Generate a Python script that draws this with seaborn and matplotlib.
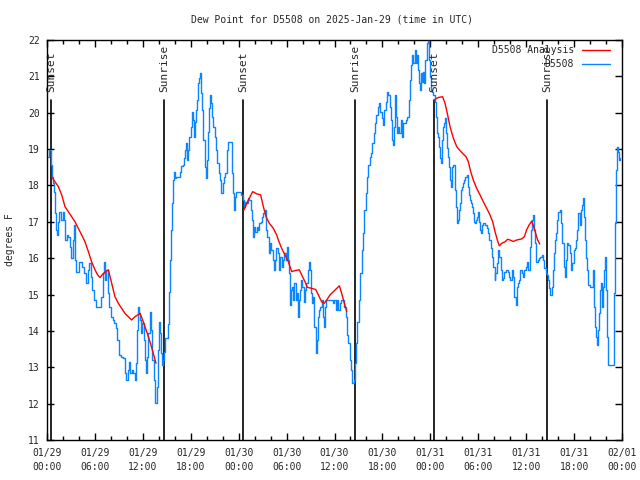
import pandas as pd
import matplotlib.pyplot as plt
from matplotlib.lines import Line2D
import seaborn as sns

# time axis: hours after 2025-01-29 00:00 UTC
obs_hours = [
    0.17, 0.38, 0.58, 0.70, 0.79, 1.00, 1.09, 1.20, 1.34, 1.50, 1.63, 1.84, 2.05, 2.17, 2.34,
    2.59, 2.75, 3.01, 3.09, 3.30, 3.42, 3.59, 3.72, 3.92, 4.13, 4.34, 4.55, 4.76, 4.97, 5.18,
    5.38, 5.59, 5.80, 6.01, 6.34, 6.64, 6.85, 7.05, 7.18, 7.35, 7.51, 7.68, 7.89, 8.10, 8.31,
    8.51, 8.72, 8.93, 9.14, 9.35, 9.68, 9.85, 9.98, 10.18, 10.39, 10.52, 10.69, 10.85, 11.02,
    11.14, 11.27, 11.35, 11.44, 11.60, 11.77, 11.85, 12.06, 12.19, 12.36, 12.48, 12.61, 12.77,
    12.94, 13.11, 13.31, 13.52, 13.65, 13.86, 14.02, 14.15, 14.27, 14.36, 14.48, 14.57, 14.73,
    14.90, 15.07, 15.23, 15.32, 15.44, 15.57, 15.69, 15.82, 15.94, 16.07, 16.24, 16.57, 16.74,
    16.91, 17.07, 17.20, 17.32, 17.45, 17.57, 17.74, 17.91, 18.03, 18.16, 18.28, 18.41, 18.53,
    18.66, 18.83, 18.95, 19.08, 19.20, 19.33, 19.49, 19.66, 19.79, 19.91, 20.04, 20.16, 20.33,
    20.49, 20.62, 20.74, 20.91, 21.08, 21.25, 21.41, 21.58, 21.75, 21.91, 22.08, 22.25, 22.41,
    22.58, 22.71, 22.92, 23.17, 23.25, 23.33, 23.46, 23.58, 23.75, 24.17, 24.42, 24.59, 24.75,
    24.92, 25.09, 25.25, 25.42, 25.55, 25.71, 25.88, 26.00, 26.17, 26.34, 26.50, 26.67, 26.84,
    27.01, 27.17, 27.34, 27.51, 27.67, 27.84, 28.01, 28.17, 28.34, 28.51, 28.67, 28.80, 28.97,
    29.13, 29.30, 29.47, 29.64, 29.80, 29.97, 30.14, 30.30, 30.43, 30.51, 30.64, 30.76, 30.89,
    31.05, 31.22, 31.35, 31.47, 31.60, 31.76, 31.89, 32.06, 32.23, 32.39, 32.56, 32.73, 32.85,
    32.98, 33.14, 33.27, 33.39, 33.56, 33.69, 33.81, 33.98, 34.15, 34.31, 34.48, 34.65, 34.77,
    34.90, 35.06, 35.44, 35.73, 35.90, 36.07, 36.23, 36.40, 36.57, 36.73, 36.90, 37.15, 37.32,
    37.48, 37.61, 37.82, 37.99, 38.15, 38.32, 38.48, 38.65, 38.78, 38.98, 39.15, 39.32, 39.49,
    39.65, 39.82, 39.99, 40.16, 40.32, 40.49, 40.66, 40.82, 40.99, 41.16, 41.32, 41.49, 41.66,
    41.83, 41.99, 42.16, 42.33, 42.49, 42.66, 42.83, 42.95, 43.12, 43.28, 43.41, 43.53, 43.62,
    43.74, 43.87, 44.04, 44.20, 44.37, 44.54, 44.70, 44.87, 45.04, 45.20, 45.37, 45.54, 45.66,
    45.79, 45.96, 46.08, 46.21, 46.33, 46.46, 46.58, 46.71, 46.83, 46.96, 47.12, 47.29, 47.46,
    47.62, 47.75, 47.88, 48.00, 48.13, 48.30, 48.46, 48.63, 48.71, 48.84, 48.96, 49.13, 49.25,
    49.38, 49.50, 49.63, 49.75, 49.88, 50.00, 50.13, 50.25, 50.38, 50.55, 50.67, 50.80, 50.92,
    51.05, 51.17, 51.30, 51.42, 51.55, 51.67, 51.80, 51.92, 52.05, 52.17, 52.30, 52.47, 52.63,
    52.76, 52.88, 53.01, 53.13, 53.26, 53.38, 53.51, 53.63, 53.76, 53.88, 54.05, 54.18, 54.30,
    54.43, 54.55, 54.68, 54.80, 54.97, 55.14, 55.31, 55.47, 55.64, 55.81, 55.97, 56.10, 56.22,
    56.39, 56.56, 56.73, 56.85, 56.98, 57.14, 57.31, 57.60, 57.77, 57.93, 58.10, 58.27, 58.44,
    58.60, 58.73, 58.85, 59.02, 59.19, 59.36, 59.52, 59.69, 59.86, 60.02, 60.19, 60.36, 60.52,
    60.69, 60.82, 60.94, 61.03, 61.19, 61.36, 61.53, 61.70, 61.86, 62.03, 62.20, 62.36, 62.53,
    62.66, 62.78, 62.95, 63.12, 63.24, 63.37, 63.54, 63.66, 63.83, 63.96, 64.12, 64.29, 64.46,
    64.63, 64.79, 64.96, 65.09, 65.21, 65.38, 65.55, 65.72, 65.88, 66.01, 66.13, 66.26, 66.38,
    66.51, 66.63, 66.76, 66.88, 67.01, 67.14, 67.26, 67.39, 67.56, 67.72, 67.89, 68.06, 68.23,
    68.39, 68.52, 68.64, 68.81, 68.94, 69.06, 69.19, 69.31, 69.44, 69.56, 69.73, 69.86, 69.98,
    70.07, 70.15, 70.32, 70.57, 70.82, 70.99, 71.07, 71.16, 71.28, 71.41, 71.53, 71.66, 71.79,
]
obs_dewpt = [
    18.79, 18.98, 18.56, 18.24, 18.06, 17.83, 17.23, 16.78, 16.64, 17.00, 17.28, 17.05, 17.28, 17.05, 16.50,
    16.64, 16.59, 16.32, 16.00, 16.50, 16.91, 15.95, 15.63, 15.63, 15.90, 15.90, 15.77, 15.58, 15.31, 15.68,
    15.86, 15.49, 15.13, 14.85, 14.67, 14.67, 14.94, 15.58, 15.90, 15.40, 15.68, 15.03, 14.67, 14.39, 14.30,
    14.21, 14.07, 13.75, 13.34, 13.29, 13.25, 12.83, 12.65, 12.93, 13.15, 12.83, 12.93, 12.83, 12.83,
    12.65, 13.11, 14.03, 14.67, 14.48, 14.30, 13.93, 14.21, 13.75, 13.20, 12.83, 13.29, 13.93,
    14.53, 14.03, 13.20, 12.65, 12.01, 12.47, 13.48, 14.25, 13.93, 13.38, 13.06, 13.20, 13.43,
    13.80, 13.80, 14.20, 15.08, 15.95, 16.78, 17.51, 18.15, 18.38, 18.20, 18.22, 18.24, 18.38,
    18.54, 18.56, 18.75, 18.98, 19.18, 18.70, 18.98, 19.34, 19.62, 20.03, 19.80, 19.34, 19.75,
    20.08, 20.35, 20.81, 20.95, 21.08, 20.53, 20.08, 19.25, 18.52, 18.20, 18.70, 19.48, 20.12,
    20.49, 20.26, 19.89, 19.62, 19.34, 18.98, 18.61, 18.33, 18.15, 17.78, 18.06, 18.24, 18.33,
    18.98, 19.20, 19.20, 19.20, 18.33, 17.78, 17.33, 17.69, 17.81, 17.81, 17.74, 17.60, 17.42,
    17.55, 17.51, 17.65, 17.60, 17.33, 17.05, 16.59, 16.87, 16.73, 16.87, 16.78, 16.96, 17.00,
    17.14, 17.23, 17.33, 16.78, 16.59, 16.13, 16.41, 16.23, 15.95, 15.68, 15.95, 16.27, 16.13,
    15.68, 16.04, 15.77, 15.95, 16.13, 15.95, 16.32, 15.95, 15.58, 14.71, 15.13, 15.22, 14.85,
    15.31, 14.85, 15.03, 14.39, 14.85, 15.13, 15.40, 15.22, 14.80, 15.13, 15.31, 15.68, 15.90,
    15.68, 15.03, 14.76, 14.94, 14.12, 13.38, 13.75, 14.39, 14.58, 14.67, 14.85, 14.39, 14.12,
    14.67, 14.85, 14.85, 14.85, 14.76, 14.85, 14.58, 14.85, 14.58, 14.76, 14.85, 14.85, 14.67,
    14.39, 13.89, 13.66, 13.20, 12.93, 12.56, 12.65, 13.11, 13.66, 14.25, 14.85, 15.58, 16.23,
    16.68, 17.33, 17.78, 18.24, 18.56, 18.79, 18.88, 19.16, 19.43, 19.71, 19.94, 20.17, 20.26,
    20.03, 19.85, 19.66, 20.08, 20.30, 20.58, 20.49, 20.17, 19.80, 19.25, 19.11, 19.62, 20.49,
    19.89, 19.43, 19.62, 19.43, 19.80, 19.34, 19.71, 19.71, 19.80, 19.89, 20.35, 20.90, 21.31,
    21.59, 21.36, 21.73, 21.36, 21.59, 21.18, 20.81, 20.63, 21.08, 20.85, 21.13, 20.81, 21.45,
    21.91, 21.97, 21.45, 20.99, 20.63, 20.58, 20.49, 20.30, 19.89, 19.43, 19.34, 19.07, 18.75,
    18.61, 19.25, 19.62, 19.71, 19.85, 19.43, 19.02, 18.79, 18.52, 18.15, 17.97, 18.52, 18.56,
    18.56, 17.88, 17.42, 16.96, 17.05, 17.33, 17.51, 17.88, 17.97, 18.06, 18.15, 18.24, 18.29,
    17.97, 17.74, 17.60, 17.51, 17.42, 17.23, 17.00, 16.96, 17.05, 17.14, 17.28, 17.00, 16.78,
    16.68, 16.91, 16.96, 16.96, 16.91, 16.82, 16.68, 16.50, 16.27, 16.04, 15.77, 15.40, 15.58,
    15.86, 16.23, 16.04, 15.68, 15.40, 15.45, 15.63, 15.68, 15.63, 15.49, 15.40, 15.68, 15.49,
    14.94, 14.71, 15.22, 15.31, 15.40, 15.68, 15.58, 15.49, 15.68, 15.77, 15.90, 15.68, 16.32,
    16.78, 17.05, 17.19, 16.78, 16.41, 15.90, 15.95, 16.00, 16.04, 16.09, 15.95, 15.72, 15.58,
    15.54, 15.40, 15.17, 14.99, 15.22, 15.68, 16.13, 16.50, 16.68, 17.05, 17.28, 17.33, 16.96,
    16.41, 15.77, 15.49, 15.95, 16.41, 16.36, 16.13, 15.68, 15.86, 16.23, 16.27, 16.50, 16.78,
    17.23, 17.23, 16.91, 17.33, 17.46, 17.65, 17.14, 16.50, 16.00, 15.68, 15.26, 15.22, 15.22,
    15.68, 14.67, 14.12, 13.84, 13.61, 14.03, 14.48, 15.13, 15.31, 14.67, 15.22, 15.68, 16.04,
    15.13, 13.84, 13.06, 13.06, 13.06, 13.06, 15.03, 16.96, 18.43, 19.07, 18.93, 18.70, 18.75,
]

# analysis only exists overnight: three separate runs
ana_run = [1] * 32 + [2] * 33 + [3] * 38
ana_hours = [
    0.58, 1.00, 1.42, 1.84, 2.25, 2.67, 3.09, 3.51, 3.92, 4.34, 4.76, 5.18, 5.59, 6.01, 6.34, 6.64,
    7.05, 7.68, 8.10, 8.51, 8.93, 9.35, 9.77, 10.18, 10.60, 11.02, 11.65, 12.06, 12.48, 12.90, 13.31, 13.65,
    24.67, 25.21, 25.76, 26.25, 26.75, 27.09, 27.42, 27.84, 28.34, 28.76, 28.97, 29.38, 29.80, 30.22,
    30.64, 31.05, 31.60, 31.89, 32.31, 32.60, 33.14, 33.64, 33.98, 34.39, 34.73, 35.02, 35.44, 35.86,
    36.28, 36.61, 36.90, 37.23, 37.53,
    48.59, 49.00, 49.54, 49.84, 50.13, 50.46, 50.88, 51.30, 51.63, 52.05, 52.47, 52.76, 53.05, 53.38,
    53.80, 54.22, 54.64, 55.06, 55.47, 55.81, 56.10, 56.39, 56.64, 56.94, 57.35, 57.68, 57.97, 58.39,
    58.81, 59.44, 59.77, 60.06, 60.36, 60.69, 60.94, 61.19, 61.44, 61.70,
]
ana_dewpt = [
    18.24, 18.10, 17.97, 17.74, 17.42, 17.28, 17.14, 17.00, 16.82, 16.64, 16.45, 16.18, 15.90, 15.68, 15.54, 15.47,
    15.58, 15.68, 15.31, 14.94, 14.76, 14.62, 14.48, 14.39, 14.30, 14.39, 14.48, 14.25, 13.98, 13.70, 13.38, 13.11,
    17.33, 17.60, 17.83, 17.77, 17.74, 17.42, 17.14, 16.96, 16.82, 16.64, 16.50, 16.27, 16.09, 15.90,
    15.63, 15.66, 15.68, 15.54, 15.35, 15.20, 15.17, 15.14, 14.99, 14.80, 14.76, 14.85, 14.99, 15.08,
    15.17, 15.24, 15.03, 14.76, 14.53,
    20.37, 20.42, 20.44, 20.26, 19.98, 19.62, 19.30, 19.07, 18.98, 18.88, 18.79, 18.65, 18.38, 18.15,
    17.92, 17.74, 17.55, 17.37, 17.19, 17.00, 16.73, 16.50, 16.34, 16.41, 16.45, 16.52, 16.50, 16.46,
    16.50, 16.53, 16.59, 16.78, 16.91, 17.02, 16.87, 16.68, 16.50, 16.39,
]

sunset_hours = [0.55, 24.58, 48.5]
sunrise_hours = [14.65, 38.6, 62.65]

tick_hours = [0, 6, 12, 18, 24, 30, 36, 42, 48, 54, 60, 66, 72]
tick_labels = [
    "01/29\n00:00", "01/29\n06:00", "01/29\n12:00", "01/29\n18:00",
    "01/30\n00:00", "01/30\n06:00", "01/30\n12:00", "01/30\n18:00",
    "01/31\n00:00", "01/31\n06:00", "01/31\n12:00", "01/31\n18:00",
    "02/01\n00:00",
]

BLUE = "#0a84ff"
RED = "#ff0000"

sns.set_style("ticks")
plt.rcParams["font.family"] = ["DejaVu Sans Mono"]
plt.rcParams["font.size"] = 7

obs = pd.DataFrame({"hours": obs_hours, "dewpt": obs_dewpt})
ana = pd.DataFrame({"hours": ana_hours, "dewpt": ana_dewpt, "run": ana_run})

fig = plt.figure(figsize=(6.4, 4.8), dpi=100)
ax = fig.add_axes([47 / 640, 40 / 480, 575 / 640, 400 / 480])

# obs look jagged in the original, steps get closer to that
sns.lineplot(data=obs, x="hours", y="dewpt", ax=ax, color=BLUE, lw=1.0,
             sort=False, estimator=None, legend=False, zorder=3, drawstyle="steps-mid")
sns.lineplot(data=ana, x="hours", y="dewpt", units="run", ax=ax, color=RED, lw=1.0,
             sort=False, estimator=None, legend=False, zorder=4)

ax.set_xlim(0, 72)
ax.set_ylim(11, 22)

# sunrise / sunset markers
for name, hours in (("Sunset", sunset_hours), ("Sunrise", sunrise_hours)):
    for h in hours:
        ax.axvline(h, ymin=0, ymax=0.85, color="black", lw=1.2, zorder=2)
        ax.text(h, 0.87, name, transform=ax.get_xaxis_transform(), rotation=90,
                ha="center", va="bottom", fontsize=8)

ax.set_xticks(tick_hours)
ax.set_xticklabels(tick_labels, linespacing=1.5)
ax.set_xticks(range(0, 73, 2), minor=True)
ax.set_yticks(range(11, 23))
ax.tick_params(which="major", direction="in", top=True, right=True,
               length=5, width=1, color="black", labelsize=7, pad=5)
ax.tick_params(which="minor", direction="in", top=True, right=True,
               length=3, width=1, color="black")
ax.tick_params(axis="x", pad=6)
for s in ax.spines.values():
    s.set_color("black")
    s.set_linewidth(1)
ax.set_xlabel("")
ax.set_ylabel("")

fig.text(332 / 640, 1 - 20 / 480, "Dew Point for D5508 on 2025-Jan-29 (time in UTC)",
         ha="center", va="center", fontsize=7)
fig.text(10 / 640, 0.5, "degrees F", rotation=90, ha="center", va="center", fontsize=7)

handles = [Line2D([], [], color=RED, lw=1.0), Line2D([], [], color=BLUE, lw=1.0)]
ax.legend(handles, ["D5508 Analysis", "D5508"], loc="upper right",
          bbox_to_anchor=(1 - 12 / 575, 1 - 5 / 400), frameon=False, markerfirst=False,
          borderaxespad=0, borderpad=0, handlelength=2.9, handletextpad=0.8,
          labelspacing=0.45, fontsize=7)

fig.savefig("out.png", dpi=100)
